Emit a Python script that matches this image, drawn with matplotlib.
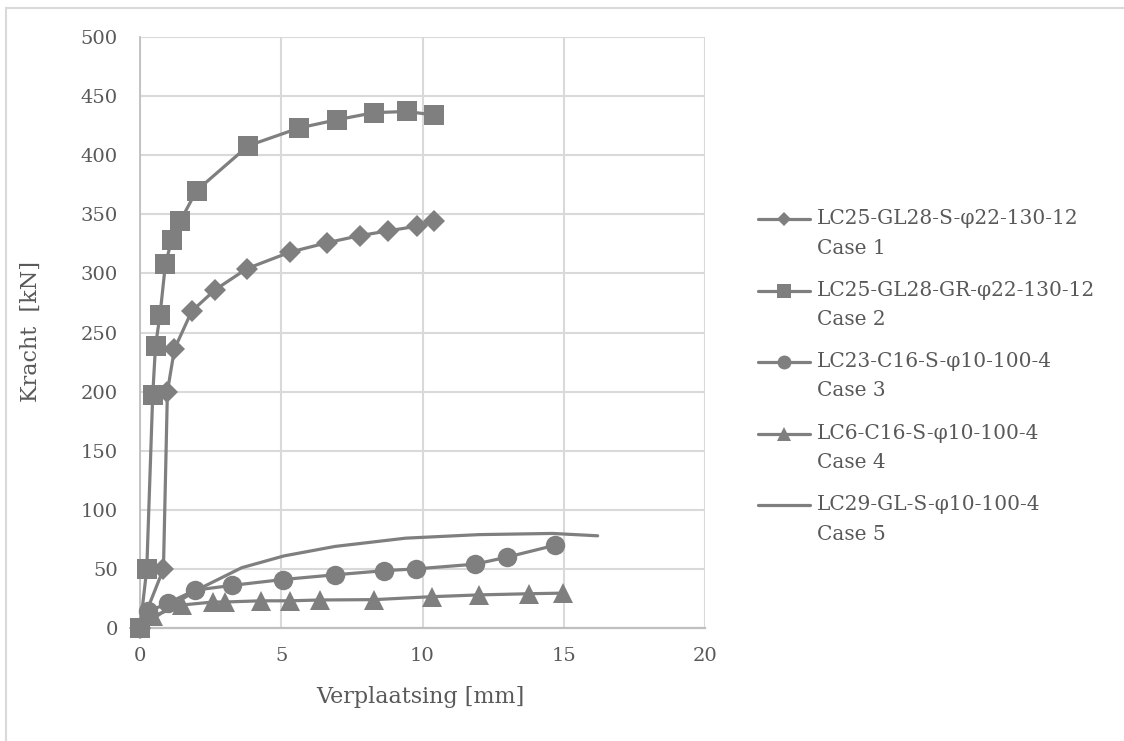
import matplotlib
matplotlib.use("Agg")
import matplotlib.pyplot as plt
from matplotlib.lines import Line2D
from matplotlib.patches import Rectangle

# ---- data ----
case1_x = [0, 0.83, 0.97, 1.22, 1.83, 2.65, 3.78, 5.31, 6.63, 7.79, 8.79, 9.82, 10.41]
case1_y = [0, 50, 200, 236, 268, 286, 304, 318, 326, 332, 336, 340, 344]

case2_x = [0, 0.24, 0.45, 0.55, 0.71, 0.9, 1.12, 1.42, 2.0, 3.83, 5.63, 6.97, 8.29, 9.44, 10.41]
case2_y = [0, 50, 197, 239, 265, 308, 328, 344, 370, 408, 423, 430, 436, 437, 434]

case3_x = [0, 0.3, 0.98, 1.95, 3.24, 5.05, 6.9, 8.65, 9.77, 11.86, 13.0, 14.69]
case3_y = [0, 14, 21, 32, 36, 41, 45, 48.5, 50, 54, 60, 70]

case4_x = [0, 0.45, 1.5, 2.6, 3.0, 4.27, 5.3, 6.36, 8.3, 10.33, 12.0, 13.78, 14.96]
case4_y = [0, 10, 19.5, 22, 22, 23, 23, 23.7, 24, 26.5, 28, 29, 29.5]

case5_x = [0, 0.6, 1.2, 2.0, 3.6, 5.1, 6.9, 9.4, 12.0, 14.6, 16.2]
case5_y = [0, 10, 20, 32, 51, 61, 69, 76, 79, 80, 78]

labels = [
    "LC25-GL28-S-φ22-130-12\nCase 1",
    "LC25-GL28-GR-φ22-130-12\nCase 2",
    "LC23-C16-S-φ10-100-4\nCase 3",
    "LC6-C16-S-φ10-100-4\nCase 4",
    "LC29-GL-S-φ10-100-4\nCase 5",
]
x_ticks = [0, 5, 10, 15, 20]
y_ticks = [0, 50, 100, 150, 200, 250, 300, 350, 400, 450, 500]
x_label = "Verplaatsing [mm]"
y_label = "Kracht  [kN]"

# ---- styling ----
plt.rcParams['font.family'] = ['DejaVu Serif']
GRAY = '#7f7f7f'
TXT = '#595959'
GRID = '#d9d9d9'

W, H = 1124, 741
fig = plt.figure(figsize=(W / 100, H / 100), dpi=100)
ax = fig.add_axes([140 / W, 1 - 628 / H, (705 - 140) / W, (628 - 37) / H])

series = [
    (case1_x, case1_y, 'D', 11.5),
    (case2_x, case2_y, 's', 14),
    (case3_x, case3_y, 'o', 14),
    (case4_x, case4_y, '^', 14),
    (case5_x, case5_y, None, 0),
]
legend_ms = {'D': 7.5, 's': 10.5, 'o': 10, '^': 10}

for i, (xs, ys, m, ms) in enumerate(series):
    ax.plot(xs, ys, color=GRAY, lw=2.3, marker=m, markersize=ms,
            markeredgewidth=0, solid_joinstyle='round', solid_capstyle='round',
            zorder=3 + i, clip_on=False)

ax.set_xlim(0, 20)
ax.set_ylim(0, 500)
ax.set_xticks(x_ticks)
ax.set_yticks(y_ticks)
ax.grid(True, color=GRID, lw=1.5, zorder=0)
ax.set_axisbelow(True)
for s in ['top', 'right']:
    ax.spines[s].set_visible(False)
ax.spines['left'].set_color('#bfbfbf')
ax.spines['left'].set_linewidth(1.3)
ax.spines['bottom'].set_color('#bfbfbf')
ax.spines['bottom'].set_linewidth(1.6)
ax.tick_params(axis='both', length=0, labelsize=14, labelcolor=TXT)
ax.tick_params(axis='y', pad=16)
ax.tick_params(axis='x', pad=14)

fig.text(420 / W, 1 - 697 / H, x_label, ha='center', va='center', fontsize=16, color=TXT)
fig.text(31 / W, 1 - 332 / H, y_label, ha='center', va='center', fontsize=16,
         color=TXT, rotation=90)

# ---- legend (handle aligned with the first text line) ----
y0 = 219
dy = 71.5
for i, ((xs, ys, m, ms), lab) in enumerate(zip(series, labels)):
    yc = 1 - (y0 + i * dy) / H
    line = Line2D([758 / W, 784 / W, 810 / W], [yc, yc, yc], transform=fig.transFigure,
                  color=GRAY, lw=2.3, marker=m, markevery=[1],
                  markersize=legend_ms.get(m, 0), markeredgewidth=0,
                  solid_capstyle='round')
    fig.add_artist(line)
    first, second = lab.split("\n")
    fig.text(817 / W, yc, first, ha='left', va='center', fontsize=14.5, color=TXT)
    fig.text(817 / W, 1 - (y0 + i * dy + 29) / H, second, ha='left', va='center',
             fontsize=14.5, color=TXT)

# outer chart frame (top and left edges visible)
fig.add_artist(Rectangle((6 / W, -0.05), 1.2, 1 - 8 / H + 0.05, transform=fig.transFigure,
                         fill=False, edgecolor=GRID, lw=1.5))

fig.savefig("out.png", dpi=100, facecolor='white')
